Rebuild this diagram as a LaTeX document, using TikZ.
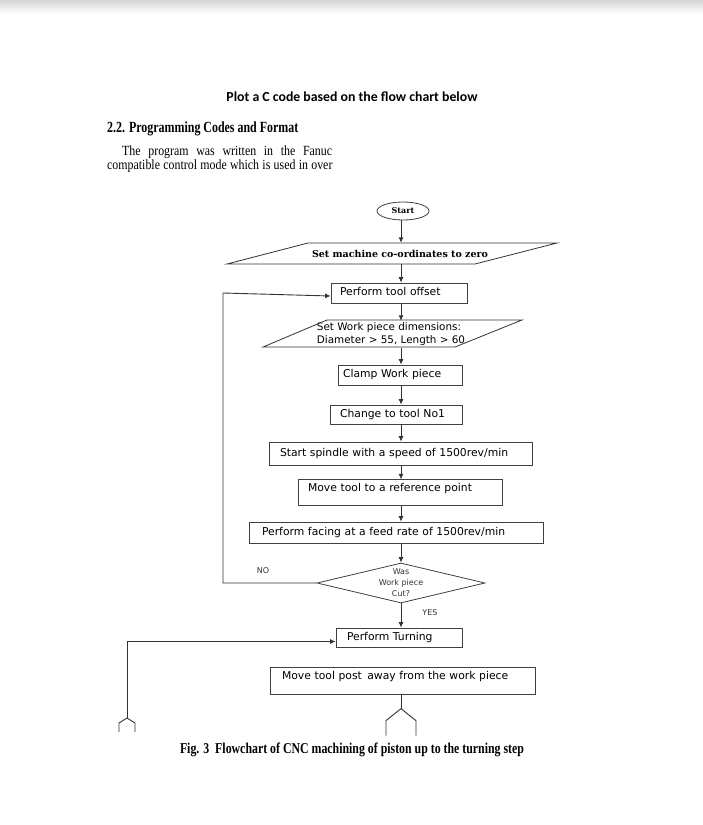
\documentclass[tikz,border=0pt]{standalone}
\usepackage{fontspec}
\usepackage{graphicx}
\setmainfont{Liberation Serif}
\newfontfamily\boxfont{DejaVu Sans}
\newfontfamily\slabfont{DejaVu Serif}
\newfontfamily\calfont{Carlito}
\usetikzlibrary{shapes.geometric,arrows.meta}
\tikzset{
  ln/.style={draw=black!80, line width=0.9pt},
  arr/.style={ln, -{Latex[length=5.5pt,width=5pt]}},
  box/.style={draw=black!75, line width=0.8pt, rectangle, align=left,
    font=\boxfont\fontsize{10.8}{13}\selectfont, inner ysep=0pt,
    text height=7.5pt, text depth=2pt},
  topbox/.style={box, inner ysep=4pt, text height=7.5pt},
  lbl/.style={font=\boxfont\fontsize{8}{10}\selectfont, inner sep=0pt, text=black!80},
}
\begin{document}
\begin{tikzpicture}[x=1pt,y=-1pt]
\useasboundingbox (0,0) rectangle (703,825);
\fill[white] (0,0) rectangle (703,825);
\shade[top color=black!16, bottom color=white] (0,0) rectangle (703,14);

% header texts
\node[anchor=base, inner sep=0pt, font=\calfont\bfseries\fontsize{13.8}{16}\selectfont] (title) at (352,101) {Plot a C code based on the flow chart below};
\node[anchor=base west, inner sep=0pt, font=\bfseries\fontsize{15.5}{17}\selectfont] (sec) at (107,132) {\scalebox{0.77}[1]{2.2. Programming Codes and Format}};
\node[anchor=base west, inner sep=0pt, font=\fontsize{14}{16}\selectfont] (p1) at (122,155) {\scalebox{0.85}[1]{\makebox[247pt][s]{The program was written in the Fanuc}}};
\node[anchor=base west, inner sep=0pt, font=\fontsize{14}{16}\selectfont] (p2) at (107,169) {\scalebox{0.85}[1]{\makebox[265pt][s]{compatible control mode which is used in over}}};

\coordinate (col) at (401,0);

% start
\node[ellipse, draw=black!75, line width=0.8pt, minimum width=52pt, minimum height=18pt, inner sep=0pt,
  font=\slabfont\bfseries\fontsize{8}{9}\selectfont] (start) at (403,211) {Start};

% set machine co-ordinates
\node[inner sep=0pt, minimum width=160pt, minimum height=21pt,
  font=\slabfont\bfseries\fontsize{9.5}{11}\selectfont] (setmach) at (400,253.5) {Set machine co-ordinates to zero};
\draw[ln, line width=0.8pt] (setmach.center) ++(-173,10.5) -- ++(81,-21) -- ++(249,0) -- ++(-82,21) -- cycle;

% perform tool offset
\node[box, inner xsep=9pt, text width=118pt, minimum height=20pt] (offset) at (399,293) {Perform tool offset};

% set work piece dimensions
\node[inner sep=0pt, minimum width=150pt, minimum height=27pt, align=left,
  font=\boxfont\fontsize{10.4}{13}\selectfont] (wpdim) at (391,334.5) {Set Work piece dimensions:\\Diameter > 55, Length > 60};
\draw[ln, line width=0.8pt] (wpdim.center) ++(-128,12.5) -- ++(64,-27) -- ++(195,0) -- ++(-67,27) -- cycle;

\node[box, inner xsep=5pt, text width=114pt, minimum height=20pt] (clamp) at (400,375) {Clamp Work piece};
\node[box, inner xsep=10pt, text width=112pt, minimum height=19pt] (change) at (396,414.5) {Change to tool No1};
\node[box, inner xsep=11pt, text width=241pt, minimum height=23pt] (spindle) at (400.5,453.5) {Start spindle with a speed of 1500rev/min};
\node[topbox, inner xsep=10pt, text width=184pt, text depth=10pt] (moveref) at (400,492.5) {Move tool to a reference point};
\node[box, inner xsep=13pt, text width=268pt, minimum height=21pt] (facing) at (396,532.5) {Perform facing at a feed rate of 1500rev/min};

% decision
\node[diamond, draw=black!75, line width=0.8pt, minimum width=168pt, minimum height=40pt, inner sep=0pt, aspect=4.2] (dec) at (401,583) {};
\node[lbl, align=center, font=\boxfont\fontsize{8}{11}\selectfont] (dectext) at (401,583) {Was\\Work piece\\Cut?};
\node[lbl] (no) at (263,571) {NO};
\node[lbl] (yes) at (430,613) {YES};

\node[box, inner xsep=11pt, text width=104pt, minimum height=19pt] (turning) at (399,637.5) {Perform Turning};
\node[topbox, inner xsep=12pt, text width=241pt, text depth=11pt] (movepost) at (402.5,681) {Move tool post\, away from the work piece};

% main flow arrows
\draw[arr] (start.south -| col) -- (setmach.north -| col);
\draw[arr] (setmach.south -| col) -- (offset.north -| col);
\draw[arr] (offset.south -| col) -- (wpdim.north -| col);
\draw[arr] (wpdim.south -| col) -- (clamp.north -| col);
\draw[arr] (clamp.south -| col) -- (change.north -| col);
\draw[arr] (change.south -| col) -- (spindle.north -| col);
\draw[arr] (spindle.south -| col) -- (moveref.north -| col);
\draw[arr] (moveref.south -| col) -- (facing.north -| col);
\draw[arr] (facing.south -| col) -- (dec.north);
\draw[arr] (dec.south) -- (turning.north -| col);

% NO loop back
\coordinate (loopx) at (223,0);
\draw[arr] (dec.west) -| (loopx |- offset.west) -- ([yshift=-3pt]offset.west);

% incoming connector to Perform Turning
\coordinate (conL) at (127,718);
\draw[arr] (conL) |- ([yshift=-4pt]turning.west);
\draw[ln] (conL) -- ++(-8,5) -- ++(0,9);
\draw[ln] (conL) -- ++(8,5) -- ++(0,9);

% outgoing connector below last box
\draw[ln] (movepost.south -| col) -- ++(0,14) coordinate (fork);
\draw[ln] (fork) -- ++(-15,12) -- ++(0,15);
\draw[ln] (fork) -- ++(15,12) -- ++(0,15);

% caption
\node[anchor=base, inner sep=0pt, font=\bfseries\fontsize{15}{17}\selectfont] (cap) at (352,753) {\scalebox{0.79}[1]{Fig. 3\ \ Flowchart of CNC machining of piston up to the turning step}};
\end{tikzpicture}
\end{document}
